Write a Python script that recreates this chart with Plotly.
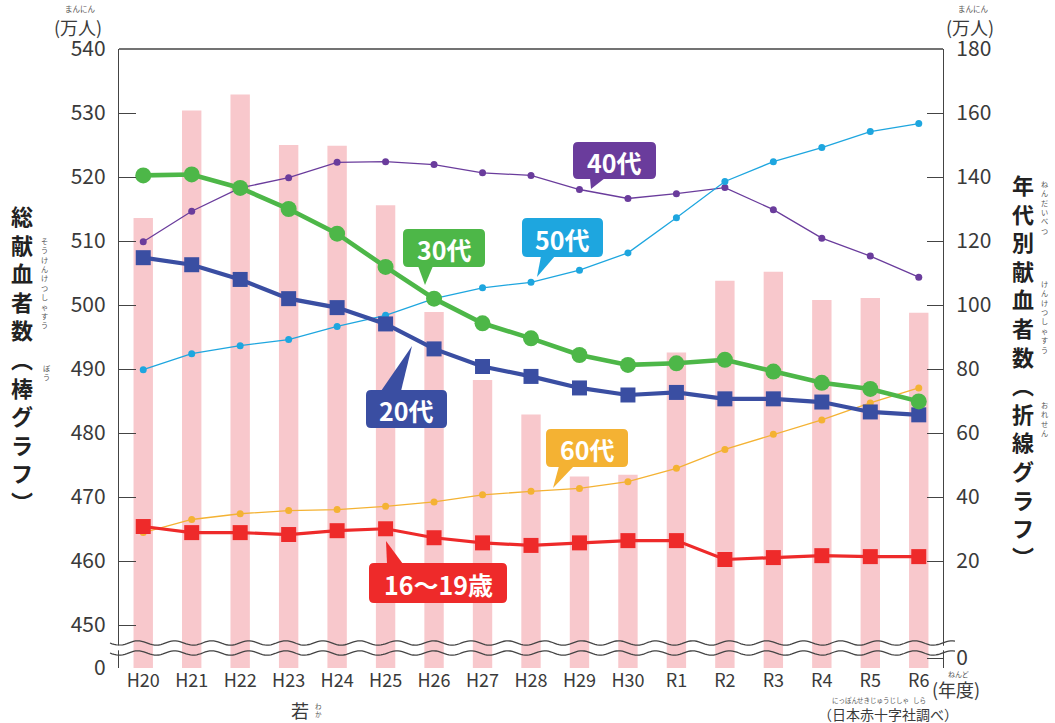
import numpy as np
import plotly.graph_objects as go

# ---------------- data ----------------
years = ["H20", "H21", "H22", "H23", "H24", "H25", "H26", "H27", "H28", "H29",
         "H30", "R1", "R2", "R3", "R4", "R5", "R6"]
total_donors = [513.6, 530.4, 532.9, 525.0, 524.9, 515.6, 498.9, 488.3, 482.9,
                473.2, 473.5, 492.6, 503.8, 505.2, 500.8, 501.1, 498.8]
age_16_19 = [30.8, 28.9, 28.9, 28.3, 29.5, 30.1, 27.3, 25.7, 24.9, 25.7, 26.4,
             26.4, 20.5, 21.1, 21.7, 21.4, 21.4]
age_20s = [114.8, 112.6, 108.0, 102.0, 99.2, 94.1, 86.3, 80.8, 77.7, 74.1, 71.9,
           72.7, 70.7, 70.7, 69.7, 66.6, 65.7]
age_30s = [140.5, 140.8, 136.6, 130.0, 122.3, 111.9, 102.0, 94.3, 89.6, 84.4, 81.3,
           81.8, 82.9, 79.2, 75.7, 73.8, 69.9]
age_40s = [119.8, 129.3, 136.6, 139.8, 144.6, 144.8, 143.9, 141.3, 140.5, 136.1,
           133.3, 134.8, 136.7, 129.8, 120.9, 115.3, 108.7]
age_50s = [79.8, 84.8, 87.3, 89.2, 93.3, 96.8, 102.0, 105.4, 107.1, 110.9, 116.3,
           127.3, 138.6, 144.8, 149.2, 154.2, 156.7]
age_60s = [28.9, 33.0, 34.8, 35.8, 36.1, 37.1, 38.5, 40.7, 41.8, 42.7, 44.8, 49.0,
           54.9, 59.6, 64.1, 69.4, 74.1]

left_tickvals = [443.4, 450, 460, 470, 480, 490, 500, 510, 520, 530, 540]
left_ticktext = ["0", "450", "460", "470", "480", "490", "500", "510", "520", "530", "540"]
right_tickvals = [-10.3, 20, 40, 60, 80, 100, 120, 140, 160, 180]
right_ticktext = ["0", "20", "40", "60", "80", "100", "120", "140", "160", "180"]

# ---------------- layout helpers ----------------
W, H = 1055, 723
L, R, T, B = 119, 943, 49, 668
PW, PH = R - L, B - T
FONT = "Noto Sans CJK JP"
TXT = "#3a3a3a"


def px(x):
    return (x - L) / PW


def py(y):
    return (B - y) / PH


fig = go.Figure()

fig.add_trace(go.Bar(x=years, y=total_donors, marker_color="#F8C8CC",
                     marker_line_width=0, yaxis="y", name="総献血者数"))

thin = [(age_40s, "#6A3C9C", "40代"), (age_50s, "#1EA6DF", "50代"), (age_60s, "#F4B233", "60代")]
for vals, col, nm in thin:
    fig.add_trace(go.Scatter(x=years, y=vals, yaxis="y2", mode="lines+markers", name=nm,
                             line=dict(color=col, width=1.3),
                             marker=dict(color=col, size=7, symbol="circle")))

thick = [(age_16_19, "#EE2A2A", "square", 15, 3.2, "16〜19歳"),
         (age_20s, "#3A4EA2", "square", 15, 4.2, "20代"),
         (age_30s, "#4DB748", "circle", 16, 4.6, "30代")]
for vals, col, sym, sz, lw, nm in thick:
    fig.add_trace(go.Scatter(x=years, y=vals, yaxis="y2", mode="lines+markers", name=nm,
                             line=dict(color=col, width=lw),
                             marker=dict(color=col, size=sz, symbol=sym)))

shapes = []
annotations = []

# top frame line
shapes.append(dict(type="line", xref="paper", yref="paper", x0=0, x1=1, y0=1, y1=1,
                   line=dict(color="#444", width=1.3), layer="above"))

# axis break waves
for yb in (643, 653):
    xs = np.linspace(110, 955, 400)
    ys = yb + 2.2 * np.sin(2 * np.pi * (xs - 110) / 37)
    path = "M " + " L ".join(f"{px(a):.5f},{py(b):.5f}" for a, b in zip(xs, ys))
    shapes.append(dict(type="path", xref="paper", yref="paper", path=path,
                       line=dict(color="#444", width=1.3), layer="above"))
for xa in (L, R):
    shapes.append(dict(type="rect", xref="paper", yref="paper",
                       x0=px(xa - 2.5), x1=px(xa + 2.5), y0=py(650.3), y1=py(645.7),
                       fillcolor="white", line=dict(width=0), layer="above"))


def rounded_box(x0, y0, x1, y1, r=5):
    pts = (f"M {px(x0 + r)},{py(y0)} L {px(x1 - r)},{py(y0)} Q {px(x1)},{py(y0)} {px(x1)},{py(y0 + r)} "
           f"L {px(x1)},{py(y1 - r)} Q {px(x1)},{py(y1)} {px(x1 - r)},{py(y1)} "
           f"L {px(x0 + r)},{py(y1)} Q {px(x0)},{py(y1)} {px(x0)},{py(y1 - r)} "
           f"L {px(x0)},{py(y0 + r)} Q {px(x0)},{py(y0)} {px(x0 + r)},{py(y0)} Z")
    return pts


def callout(text, box, tail, color):
    x0, y0, x1, y1 = box
    shapes.append(dict(type="path", xref="paper", yref="paper", path=rounded_box(x0, y0, x1, y1),
                       fillcolor=color, line=dict(width=0), layer="above"))
    tp = "M " + " L ".join(f"{px(a)},{py(b)}" for a, b in tail) + " Z"
    shapes.append(dict(type="path", xref="paper", yref="paper", path=tp,
                       fillcolor=color, line=dict(width=0), layer="above"))
    annotations.append(dict(xref="paper", yref="paper", x=px((x0 + x1) / 2), y=py((y0 + y1) / 2 + 1),
                            text=f"<b>{text}</b>", showarrow=False, xanchor="center", yanchor="middle",
                            font=dict(family=FONT, size=25, color="white")))


callout("40代", (573, 142, 656, 179), [(590, 178), (605, 178), (591, 189)], "#6A3C9C")
callout("30代", (403, 229, 485, 267), [(418, 266), (433, 266), (425, 285)], "#4DB748")
callout("50代", (522, 218, 603, 257), [(541, 256), (555, 256), (537, 277)], "#1EA6DF")
callout("20代", (366, 390, 447, 428), [(381, 391), (401, 391), (412, 346)], "#3A4EA2")
callout("60代", (546, 429, 628, 467), [(559, 466), (574, 466), (553, 488)], "#F4B233")
callout("16〜19歳", (369, 563, 507, 603), [(387, 564), (403, 564), (386, 541)], "#EE2A2A")


def text_at(x, y, s, size, color=TXT, xanchor="center", yanchor="middle", bold=False):
    annotations.append(dict(xref="paper", yref="paper", x=px(x), y=py(y),
                            text=(f"<b>{s}</b>" if bold else s), showarrow=False,
                            xanchor=xanchor, yanchor=yanchor, borderpad=0,
                            font=dict(family=FONT, size=size, color=color)))


def vtext(chars, x, y_top, size, color=TXT, bold=False):
    # one character per line (plotly line spacing = 1.3 em)
    text_at(x, y_top, "<br>".join(chars), size, color, yanchor="top", bold=bold)


# vertical axis titles
vtext(list("総献血者数") + ["︵"] + list("棒グラフ") + ["︶"], 22, 198, 22, "#222", bold=True)
vtext(list("そうけんけつしゃすう"), 44, 235, 7.2, "#555")
vtext(list("ぼう"), 47, 362, 7.2, "#555")

vtext(list("年代別献血者数") + ["︵"] + list("折線グラフ") + ["︶"], 1023, 167, 22, "#222", bold=True)
vtext(list("ねんだいべつ"), 1044, 178, 7.2, "#555")
vtext(list("けんけつしゃすう"), 1044, 278, 7.2, "#555")
vtext(list("おれせん"), 1044, 399, 7.2, "#555")

# units
text_at(78, 27, "(万人)", 18)
text_at(80, 8, "まんにん", 7.5, "#555")
text_at(970, 27, "(万人)", 18)
text_at(973, 8, "まんにん", 7.5, "#555")

# x suffix & source
text_at(956, 689, "(年度)", 18)
text_at(958, 674, "ねんど", 7, "#555")
text_at(888, 714, "（日本赤十字社調べ）", 14)
text_at(845, 700, "にっぽん", 6.5, "#555")
text_at(883, 700, "せきじゅうじしゃ", 6.5, "#555")
text_at(919, 700, "しら", 6.5, "#555")

# bottom cut text
text_at(300, 710, "若", 18)
vtext(["わ", "か"], 318, 700, 6.5, "#555")

fig.update_layout(
    width=W, height=H,
    margin=dict(l=L, r=W - R, t=T, b=H - B, autoexpand=False),
    paper_bgcolor="white", plot_bgcolor="white",
    showlegend=False, bargap=0.6,
    font=dict(family=FONT, color=TXT),
    xaxis=dict(type="category", range=[-0.5, len(years) - 0.5], showline=False, ticks="",
               showgrid=False, zeroline=False, tickfont=dict(size=18, color=TXT), automargin=False),
    yaxis=dict(range=[443.3, 540], tickvals=left_tickvals, ticktext=left_ticktext,
               showline=True, linecolor="#444", linewidth=1.3, ticks="inside", ticklen=17,
               tickcolor="#444", tickwidth=1.3, showgrid=False, zeroline=False,
               tickfont=dict(size=21, color=TXT), ticklabelstandoff=8, automargin=False),
    yaxis2=dict(range=[-13.4, 180], tickvals=right_tickvals, ticktext=right_ticktext,
                overlaying="y", side="right", showline=True, linecolor="#444", linewidth=1.3,
                ticks="inside", ticklen=16, tickcolor="#444", tickwidth=1.3, showgrid=False,
                zeroline=False, tickfont=dict(size=21, color=TXT), ticklabelstandoff=8,
                automargin=False),
    shapes=shapes, annotations=annotations,
)

fig.write_html("out.html", config={"displayModeBar": False},
               post_script="document.body.style.margin='0';document.body.style.overflow='hidden';")
